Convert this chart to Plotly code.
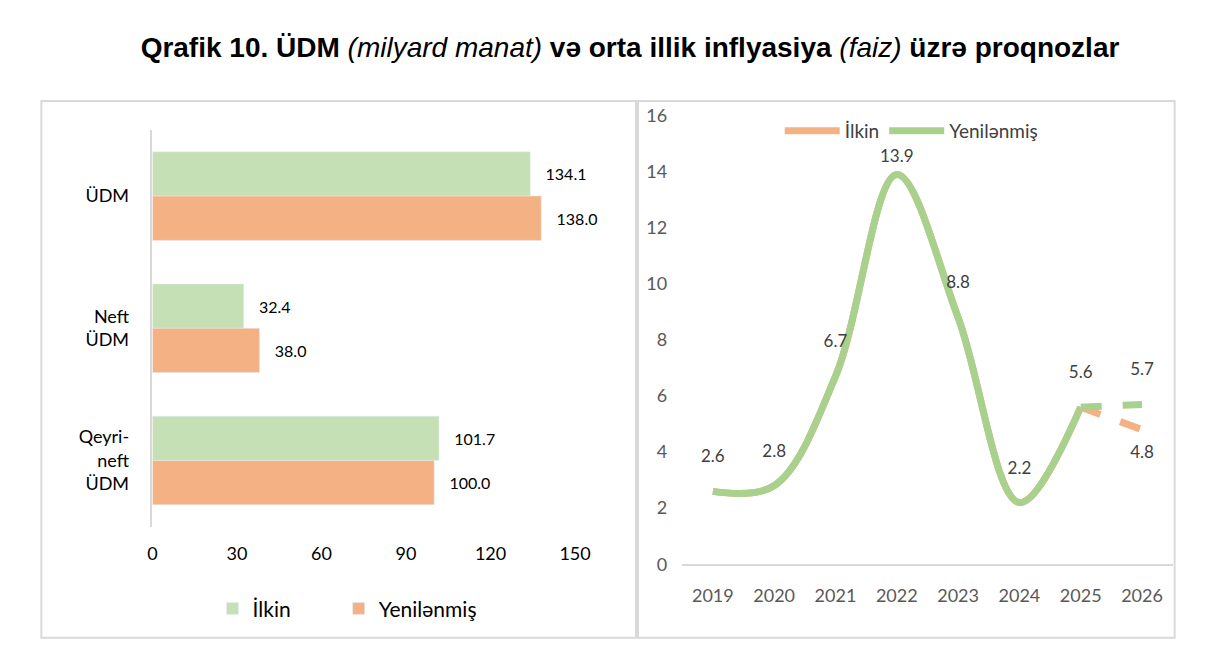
import plotly.graph_objects as go

# left panel: GDP, billion manat
sectors = ["ÜDM", "Neft<br>ÜDM", "Qeyri-<br>neft<br>ÜDM"]
ilkin_gdp = [134.1, 32.4, 101.7]
yeni_gdp = [138.0, 38.0, 100.0]

# right panel: average annual inflation, percent
years = ["2019", "2020", "2021", "2022", "2023", "2024", "2025", "2026"]
ilkin_infl = [2.6, 2.8, 6.7, 13.9, 8.8, 2.2, 5.6, 4.8]
yeni_infl = [2.6, 2.8, 6.7, 13.9, 8.8, 2.2, 5.6, 5.7]

# reference frame the layout was measured in (figure itself fills the window)
W, H = 1227, 671
GREEN_BAR = "#C5E0B4"
ORANGE = "#F4B183"
GREEN_LINE = "#A9D18E"
FONT = "Lato"
NBSP = "\u00a0"


def px_x(v):
    return v / W


def px_y(v):
    return 1 - v / H


fig = go.Figure()

# bars (green on top, orange below inside each group)
bar_names = ["İlkin" + NBSP * 8, "Yenilənmiş"]
for name, vals, col in [(bar_names[0], ilkin_gdp, GREEN_BAR), (bar_names[1], yeni_gdp, ORANGE)]:
    fig.add_trace(go.Bar(
        y=sectors, x=vals, orientation="h", name=name,
        marker_color=col, legend="legend",
        text=vals, texttemplate=NBSP * 3 + "%{x:.1f}",
        textposition="outside", cliponaxis=False, constraintext="none",
        textfont=dict(size=16, color="black", family=FONT),
        xaxis="x", yaxis="y",
    ))

# lines: solid up to 2025, dashed 2025-2026
fig.add_trace(go.Scatter(
    x=years[:7], y=ilkin_infl[:7], mode="lines", name="İlkin",
    line=dict(color=ORANGE, width=7, shape="spline"), legend="legend2",
    xaxis="x2", yaxis="y2",
))
fig.add_trace(go.Scatter(
    x=years[:7], y=yeni_infl[:7], mode="lines", name="Yenilənmiş",
    line=dict(color=GREEN_LINE, width=7, shape="spline"), legend="legend2",
    xaxis="x2", yaxis="y2",
))
fig.add_trace(go.Scatter(
    x=years[6:], y=ilkin_infl[6:], mode="lines", showlegend=False,
    line=dict(color=ORANGE, width=7, dash="dash"),
    xaxis="x2", yaxis="y2",
))
fig.add_trace(go.Scatter(
    x=years[6:], y=yeni_infl[6:], mode="lines", showlegend=False,
    line=dict(color=GREEN_LINE, width=7, dash="dash"),
    xaxis="x2", yaxis="y2",
))

# data labels (invisible markers push the text away from the line)
label_font = dict(size=17, color="#404040", family=FONT)
fig.add_trace(go.Scatter(
    x=years, y=yeni_infl, mode="markers+text", showlegend=False,
    text=["%.1f" % v for v in yeni_infl], textposition="top center",
    marker=dict(size=[38, 38, 38, 12, 38, 38, 38, 38], opacity=0),
    textfont=label_font, cliponaxis=False, hoverinfo="skip",
    xaxis="x2", yaxis="y2",
))
fig.add_trace(go.Scatter(
    x=years[7:], y=ilkin_infl[7:], mode="markers+text", showlegend=False,
    text=["%.1f" % v for v in ilkin_infl[7:]], textposition="bottom center",
    marker=dict(size=24, opacity=0), textfont=label_font,
    cliponaxis=False, hoverinfo="skip", xaxis="x2", yaxis="y2",
))

title = ("<b>Qrafik 10. ÜDM</b> <i>(milyard manat)</i> "
         "<b>və orta illik inflyasiya</b> <i>(faiz)</i> <b>üzrə proqnozlar</b>")

border = dict(type="rect", xref="paper", yref="paper",
              line=dict(color="#D9D9D9", width=2), fillcolor="rgba(0,0,0,0)",
              layer="below")

fig.update_layout(
    autosize=True,
    margin=dict(l=0, r=0, t=0, b=0),
    paper_bgcolor="white", plot_bgcolor="white",
    font=dict(family=FONT, size=18, color="black"),
    barmode="group", bargap=0.33, bargroupgap=0,
    title=dict(text=title, x=px_x(630), xanchor="center", y=px_y(47), yanchor="middle",
               font=dict(family="Liberation Sans", size=28, color="black")),
    xaxis=dict(domain=[px_x(150), px_x(580)], range=[0, 150], dtick=30,
               showgrid=False, zeroline=False, showline=False, ticks="",
               ticklabelstandoff=14, tickfont=dict(size=18, color="black"),
               anchor="y"),
    yaxis=dict(domain=[px_y(532), px_y(122)], autorange="reversed",
               showgrid=False, zeroline=False, showline=True,
               linecolor="#D9D9D9", linewidth=1.5, ticks="",
               ticklabelstandoff=18, tickfont=dict(size=18, color="black"),
               anchor="x"),
    xaxis2=dict(domain=[px_x(689), px_x(1188)], range=[-0.5, 7.5],
                showgrid=False, zeroline=False, showline=True,
                linecolor="#D9D9D9", linewidth=1.5, ticks="",
                ticklabelstandoff=14, tickfont=dict(size=18, color="#595959"),
                anchor="y2"),
    yaxis2=dict(domain=[px_y(571), px_y(107)], range=[0, 16], dtick=2,
                showgrid=False, zeroline=False, showline=False, ticks="",
                ticklabelstandoff=14, tickfont=dict(size=18, color="#595959"),
                anchor="x2"),
    legend=dict(orientation="h", x=px_x(348), xanchor="center",
                y=px_y(617), yanchor="middle", font=dict(size=21, color="black"),
                itemwidth=30, traceorder="normal",
                bgcolor="rgba(0,0,0,0)"),
    legend2=dict(orientation="h", x=px_x(922), xanchor="center",
                 y=px_y(123), yanchor="middle", font=dict(size=19, color="#404040"),
                 itemwidth=55, bgcolor="rgba(0,0,0,0)"),
    shapes=[
        dict(border, x0=px_x(37), x1=px_x(642), y0=px_y(647), y1=px_y(92)),
        dict(border, x0=px_x(644), x1=px_x(1190), y0=px_y(647), y1=px_y(92)),
    ],
)

# figure fills the whole window, no page margin, no modebar
fig.write_html(
    "out.html",
    config={"displayModeBar": False, "responsive": True},
    default_width="100vw", default_height="100vh",
    post_script="document.body.style.margin='0px';"
                "document.body.style.overflow='hidden';"
                "Plotly.Plots.resize(document.getElementById('{plot_id}'));",
)
